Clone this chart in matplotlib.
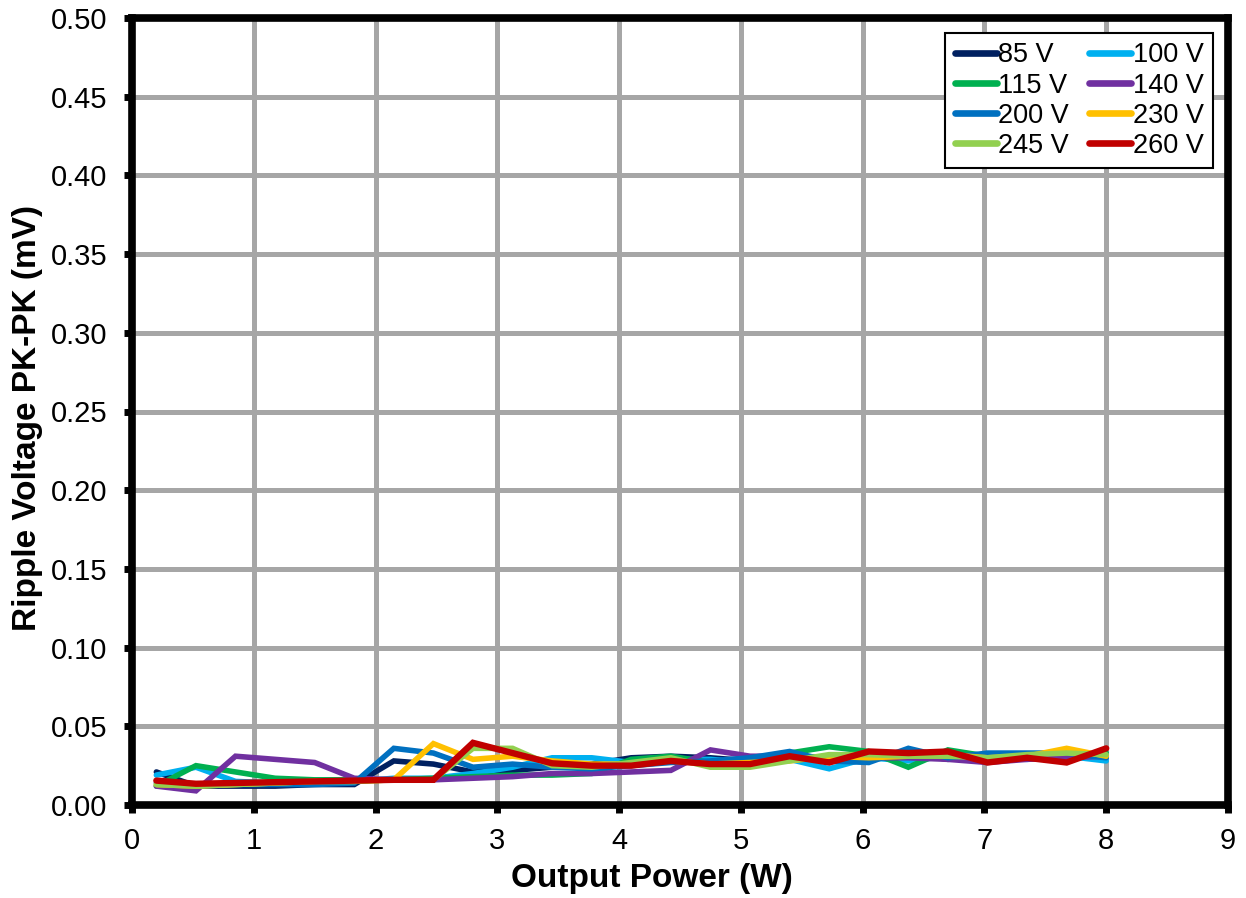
import matplotlib
matplotlib.use("Agg")
import matplotlib.pyplot as plt

plt.rcParams['font.family'] = ['Liberation Sans', 'DejaVu Sans']

x = [0.2, 0.525, 0.85, 1.175, 1.5, 1.825, 2.15, 2.475, 2.8, 3.125, 3.45, 3.775, 4.1,
     4.425, 4.75, 5.075, 5.4, 5.725, 6.05, 6.375, 6.7, 7.025, 7.35, 7.675, 8.0]

v85 = [0.021, 0.012, 0.012, 0.012, 0.013, 0.013, 0.028, 0.026, 0.021, 0.022, 0.024, 0.026, 0.030,
       0.031, 0.030, 0.028, 0.031, 0.030, 0.029, 0.033, 0.029, 0.031, 0.031, 0.032, 0.031]
v100 = [0.019, 0.024, 0.015, 0.014, 0.014, 0.015, 0.017, 0.017, 0.020, 0.024, 0.030, 0.030, 0.027,
        0.029, 0.029, 0.027, 0.029, 0.023, 0.030, 0.028, 0.031, 0.030, 0.029, 0.031, 0.028]
v115 = [0.012, 0.025, 0.021, 0.017, 0.016, 0.016, 0.016, 0.017, 0.018, 0.019, 0.019, 0.020, 0.029,
        0.031, 0.027, 0.028, 0.033, 0.037, 0.034, 0.024, 0.035, 0.031, 0.030, 0.031, 0.033]
v140 = [0.012, 0.009, 0.031, 0.029, 0.027, 0.017, 0.016, 0.016, 0.017, 0.018, 0.020, 0.020, 0.021,
        0.022, 0.035, 0.031, 0.031, 0.029, 0.030, 0.030, 0.029, 0.027, 0.029, 0.030, 0.031]
v200 = [0.014, 0.012, 0.013, 0.013, 0.013, 0.014, 0.036, 0.033, 0.024, 0.026, 0.024, 0.023, 0.025,
        0.027, 0.028, 0.030, 0.034, 0.028, 0.027, 0.036, 0.030, 0.033, 0.033, 0.033, 0.030]
v230 = [0.013, 0.012, 0.013, 0.014, 0.015, 0.015, 0.016, 0.039, 0.029, 0.031, 0.028, 0.026, 0.026,
        0.028, 0.026, 0.027, 0.028, 0.031, 0.030, 0.031, 0.032, 0.030, 0.031, 0.036, 0.031]
v245 = [0.013, 0.012, 0.013, 0.014, 0.015, 0.015, 0.016, 0.016, 0.036, 0.036, 0.025, 0.024, 0.027,
        0.030, 0.024, 0.024, 0.028, 0.032, 0.032, 0.031, 0.031, 0.030, 0.032, 0.033, 0.032]
v260 = [0.0155, 0.0135, 0.014, 0.0145, 0.015, 0.0155, 0.016, 0.016, 0.0395, 0.033, 0.0265, 0.025, 0.025,
        0.028, 0.026, 0.026, 0.031, 0.027, 0.034, 0.033, 0.034, 0.027, 0.030, 0.027, 0.036]

labels = ['85 V', '100 V', '115 V', '140 V', '200 V', '230 V', '245 V', '260 V']
series = [v85, v100, v115, v140, v200, v230, v245, v260]
colors = ['#002060', '#00B0F0', '#00B050', '#7030A0', '#0070C0', '#FFC000', '#92D050', '#C00000']

x_ticks = [0, 1, 2, 3, 4, 5, 6, 7, 8, 9]
y_ticks = [0.00, 0.05, 0.10, 0.15, 0.20, 0.25, 0.30, 0.35, 0.40, 0.45, 0.50]

fig = plt.figure(figsize=(12.46, 8.98), dpi=100)
ax = fig.add_axes([132/1246, 1 - 805/898, (1228 - 132)/1246, (805 - 18)/898])

lines = {}
for lab, vals, col in zip(labels, series, colors):
    lw = 4.6 if lab == '260 V' else 4.0
    ln, = ax.plot(x, vals, color=col, lw=lw, solid_capstyle='round', solid_joinstyle='miter', label=lab)
    lines[lab] = ln

ax.set_xlim(0, 9)
ax.set_ylim(0, 0.5)
ax.set_xticks(x_ticks)
ax.set_yticks(y_ticks)
ax.set_xticklabels([str(t) for t in x_ticks])
ax.set_yticklabels([f"{t:.2f}" for t in y_ticks])
ax.tick_params(axis='both', labelsize=21, direction='out', length=6, width=5, colors='black')
ax.tick_params(axis='x', pad=10)
ax.tick_params(axis='y', pad=12)

ax.grid(True, color='#A6A6A6', lw=3.6)
ax.set_axisbelow(True)
for sp in ax.spines.values():
    sp.set_linewidth(5.5)
    sp.set_color('black')

ax.set_xlabel('Output Power (W)', fontsize=24, fontweight='bold', labelpad=8)
ax.xaxis.set_label_coords((652 - 132) / 1096, -(879 - 805) / 787)
ax.xaxis.label.set_va('center')
ax.set_ylabel('Ripple Voltage PK-PK (mV)', fontsize=24, fontweight='bold')
ax.yaxis.set_label_coords(-(132 - 28) / 1096, (805 - 418) / 787)
ax.yaxis.label.set_va('center')

order = ['85 V', '115 V', '200 V', '245 V', '100 V', '140 V', '230 V', '260 V']
leg = ax.legend([lines[o] for o in order], order, loc='upper right', ncol=2,
                bbox_to_anchor=((1213 - 132) / 1096, 1 - 15/787), fontsize=19.5, frameon=True,
                fancybox=False, framealpha=1, edgecolor='black', handlelength=1.55,
                handletextpad=0.05, columnspacing=0.75, labelspacing=0.15, borderpad=0.35,
                borderaxespad=0.0)
leg.get_frame().set_linewidth(1.5)
for l in leg.get_lines():
    l.set_linewidth(4.8)
    l.set_solid_capstyle('round')

fig.savefig('out.png', dpi=100)
